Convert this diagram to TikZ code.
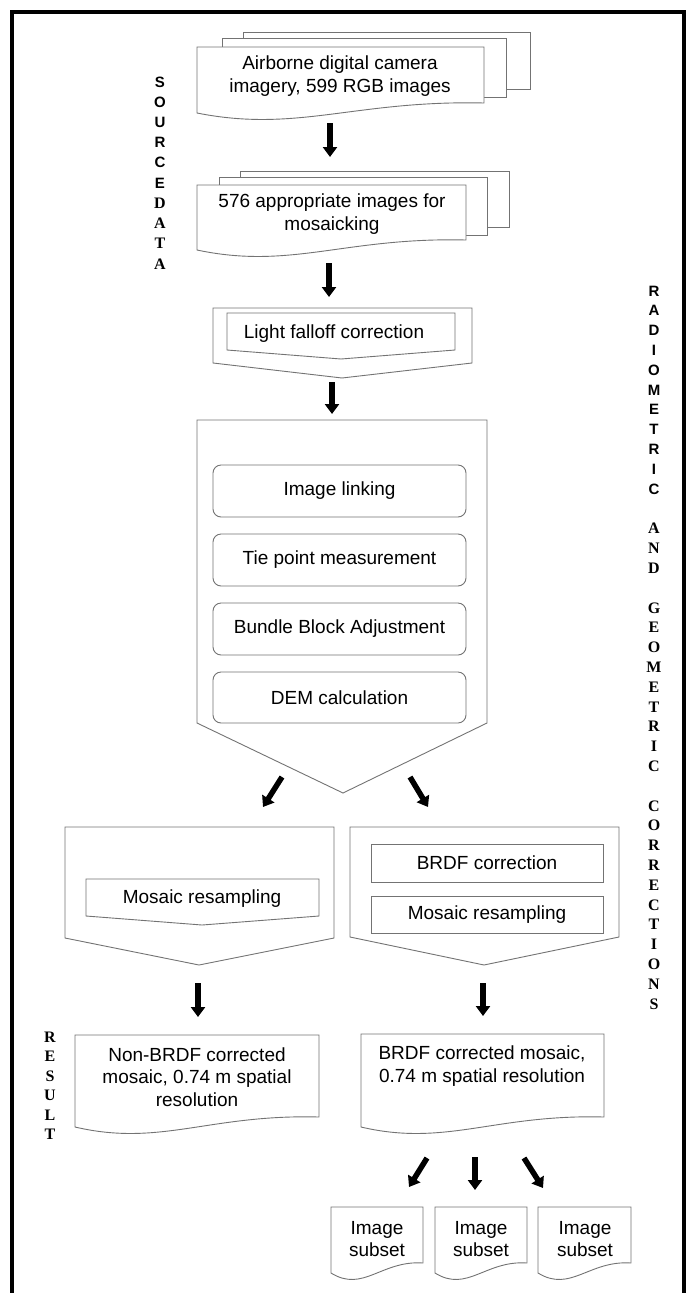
\documentclass[tikz,border=0pt]{standalone}
\usepackage{fontspec}
\setmainfont{Liberation Sans}
\newfontfamily\serifb{Liberation Serif}
\usetikzlibrary{arrows.meta}
\definecolor{ln}{gray}{0.45}
\newcommand\docshape[4]{(#1,#2) -- (#3,#2) -- (#3,#4) .. controls ({#3-0.45*(#3-#1)},{#4-3}) and ({#1+0.35*(#3-#1)},{#4+30}) .. (#1,{#4+10}) -- cycle}
\begin{document}
\begin{tikzpicture}[x=1pt,y=-1pt,
  shp/.style={draw=ln,line width=0.9pt,fill=white},
  rbox/.style={draw=ln,line width=0.9pt,rounded corners=8pt},
  bigarrow/.style={line width=5.5pt,-{Triangle[width=14pt,length=10pt]}},
  txt/.style={font=\fontsize{19}{22.5}\selectfont,align=center,inner sep=0pt},
  sfl/.style={font=\bfseries\fontsize{15}{15}\selectfont,inner sep=0pt},
  sel/.style={font=\serifb\bfseries\fontsize{16}{16}\selectfont,inner sep=0pt}]
\useasboundingbox (0,0) rectangle (686,1293);
% frame
\draw[line width=3.5pt] (12,1300) -- (12,12) -- (684,12) -- (684,1300);

% first stack
\draw[shp] (243,32) rectangle (530,89);
\draw[shp] (222,38) rectangle (506,97);
\draw[shp] \docshape{197}{47}{484}{103};
\node[txt] (src1) at (340,76) {Airborne digital camera\\imagery, 599 RGB images};

% second stack
\draw[shp] (240,171) rectangle (509,227);
\draw[shp] (219,177) rectangle (487,235);
\draw[shp] \docshape{197}{185}{466}{240};
\node[txt] (src2) at (332,214) {576 appropriate images for\\mosaicking};

% light falloff
\draw[shp] (213,308) -- (472,308) -- (472,363) -- (342,378) -- (213,363) -- cycle;
\draw[shp] (227,313) -- (455,313) -- (455,350) -- (341,359) -- (227,350) -- cycle;
\node[txt] (lfc) at (334,334) {Light falloff correction};

% big pentagon
\draw[shp] (197,420) -- (487,420) -- (487,723) -- (343,793) -- (197,723) -- cycle;
\draw[rbox] (213,465) rectangle (466,517);
\draw[rbox] (213,534) rectangle (466,586);
\draw[rbox] (213,603) rectangle (466,655);
\draw[rbox] (213,672) rectangle (466,723);
\node[txt] (il) at (339.5,491) {Image linking};
\node[txt] (tpm) at (339.5,560) {Tie point measurement};
\node[txt] (bba) at (339.5,629) {Bundle Block Adjustment};
\node[txt] (dem) at (339.5,698) {DEM calculation};

% lower left pentagon
\draw[shp] (65,827) -- (334,827) -- (334,938) -- (199,965) -- (65,938) -- cycle;
\draw[shp] (86,879) -- (319,879) -- (319,916) -- (202,925) -- (86,916) -- cycle;
\node[txt] (mrl) at (202,899) {Mosaic resampling};

% lower right pentagon
\draw[shp] (350,827) -- (619,827) -- (619,937) -- (484,965) -- (350,937) -- cycle;
\draw[shp] (371,844) rectangle (603,882);
\draw[shp] (371,896) rectangle (603,933);
\node[txt] (brdfc) at (487,863) {BRDF correction};
\node[txt] (mrr) at (487,914.5) {Mosaic resampling};

% result docs
\draw[shp] \docshape{75}{1035}{319}{1117};
\node[txt] (res1) at (197,1077) {Non-BRDF corrected\\mosaic, 0.74 m spatial\\resolution};
\draw[shp] \docshape{361}{1034}{604}{1117};
\node[txt] (res2) at (482,1066) {BRDF corrected mosaic,\\0.74 m spatial resolution};

% subsets
\draw[shp] \docshape{331}{1207}{423}{1263};
\draw[shp] \docshape{435}{1207}{527}{1263};
\draw[shp] \docshape{538}{1207}{631}{1263};
\node[txt] (sub1) at (377,1239) {Image\\subset};
\node[txt] (sub2) at (481,1239) {Image\\subset};
\node[txt] (sub3) at (585,1239) {Image\\subset};

% arrows
\coordinate (a1s) at (330,123); \coordinate (a1e) at (330,157);
\coordinate (a2s) at (329,263); \coordinate (a2e) at (329,297);
\coordinate (a3s) at (332,382); \coordinate (a3e) at (332,414);
\coordinate (a4s) at (282,777); \coordinate (a4e) at (263,807);
\coordinate (a5s) at (410,777); \coordinate (a5e) at (428,807);
\coordinate (a6s) at (198,983); \coordinate (a6e) at (198,1017);
\coordinate (a7s) at (483,983); \coordinate (a7e) at (483,1016);
\coordinate (a8s) at (427,1158); \coordinate (a8e) at (409,1187);
\coordinate (a9s) at (475,1157); \coordinate (a9e) at (475,1190);
\coordinate (a10s) at (524,1158); \coordinate (a10e) at (543,1188);
\foreach \a in {a1,a2,a3,a4,a5,a6,a7,a8,a9,a10}
  \draw[bigarrow] (\a s) -- (\a e);

% side labels
\foreach \k/\c/\f in {0/S/sfl,1/O/sfl,2/U/sfl,3/R/sfl,4/C/sfl,5/E/sfl,6/D/sel,7/A/sel,8/T/sel,9/A/sel}
  \node[\f] (sd\k) at (160,{82+20.2*\k}) {\c};
\foreach \k/\c/\f in {0/R/sfl,1/A/sfl,2/D/sfl,3/I/sfl,4/O/sfl,5/M/sfl,6/E/sfl,7/T/sfl,8/R/sfl,9/I/sfl,10/C/sfl,
  12/A/sel,13/N/sel,14/D/sel,
  16/G/sel,17/E/sel,18/O/sel,19/M/sel,20/E/sel,21/T/sel,22/R/sel,23/I/sel,24/C/sel,
  26/C/sel,27/O/sel,28/R/sel,29/R/sel,30/E/sel,31/C/sel,32/T/sel,33/I/sel,34/O/sel,35/N/sel,36/S/sel}
  \node[\f] (rg\k) at (654,{291+19.8*\k}) {\c};
\foreach \k/\c in {0/R,1/E,2/S,3/U,4/L,5/T}
  \node[sel] (rs\k) at (50,{1037+19.5*\k}) {\c};
\end{tikzpicture}
\end{document}
